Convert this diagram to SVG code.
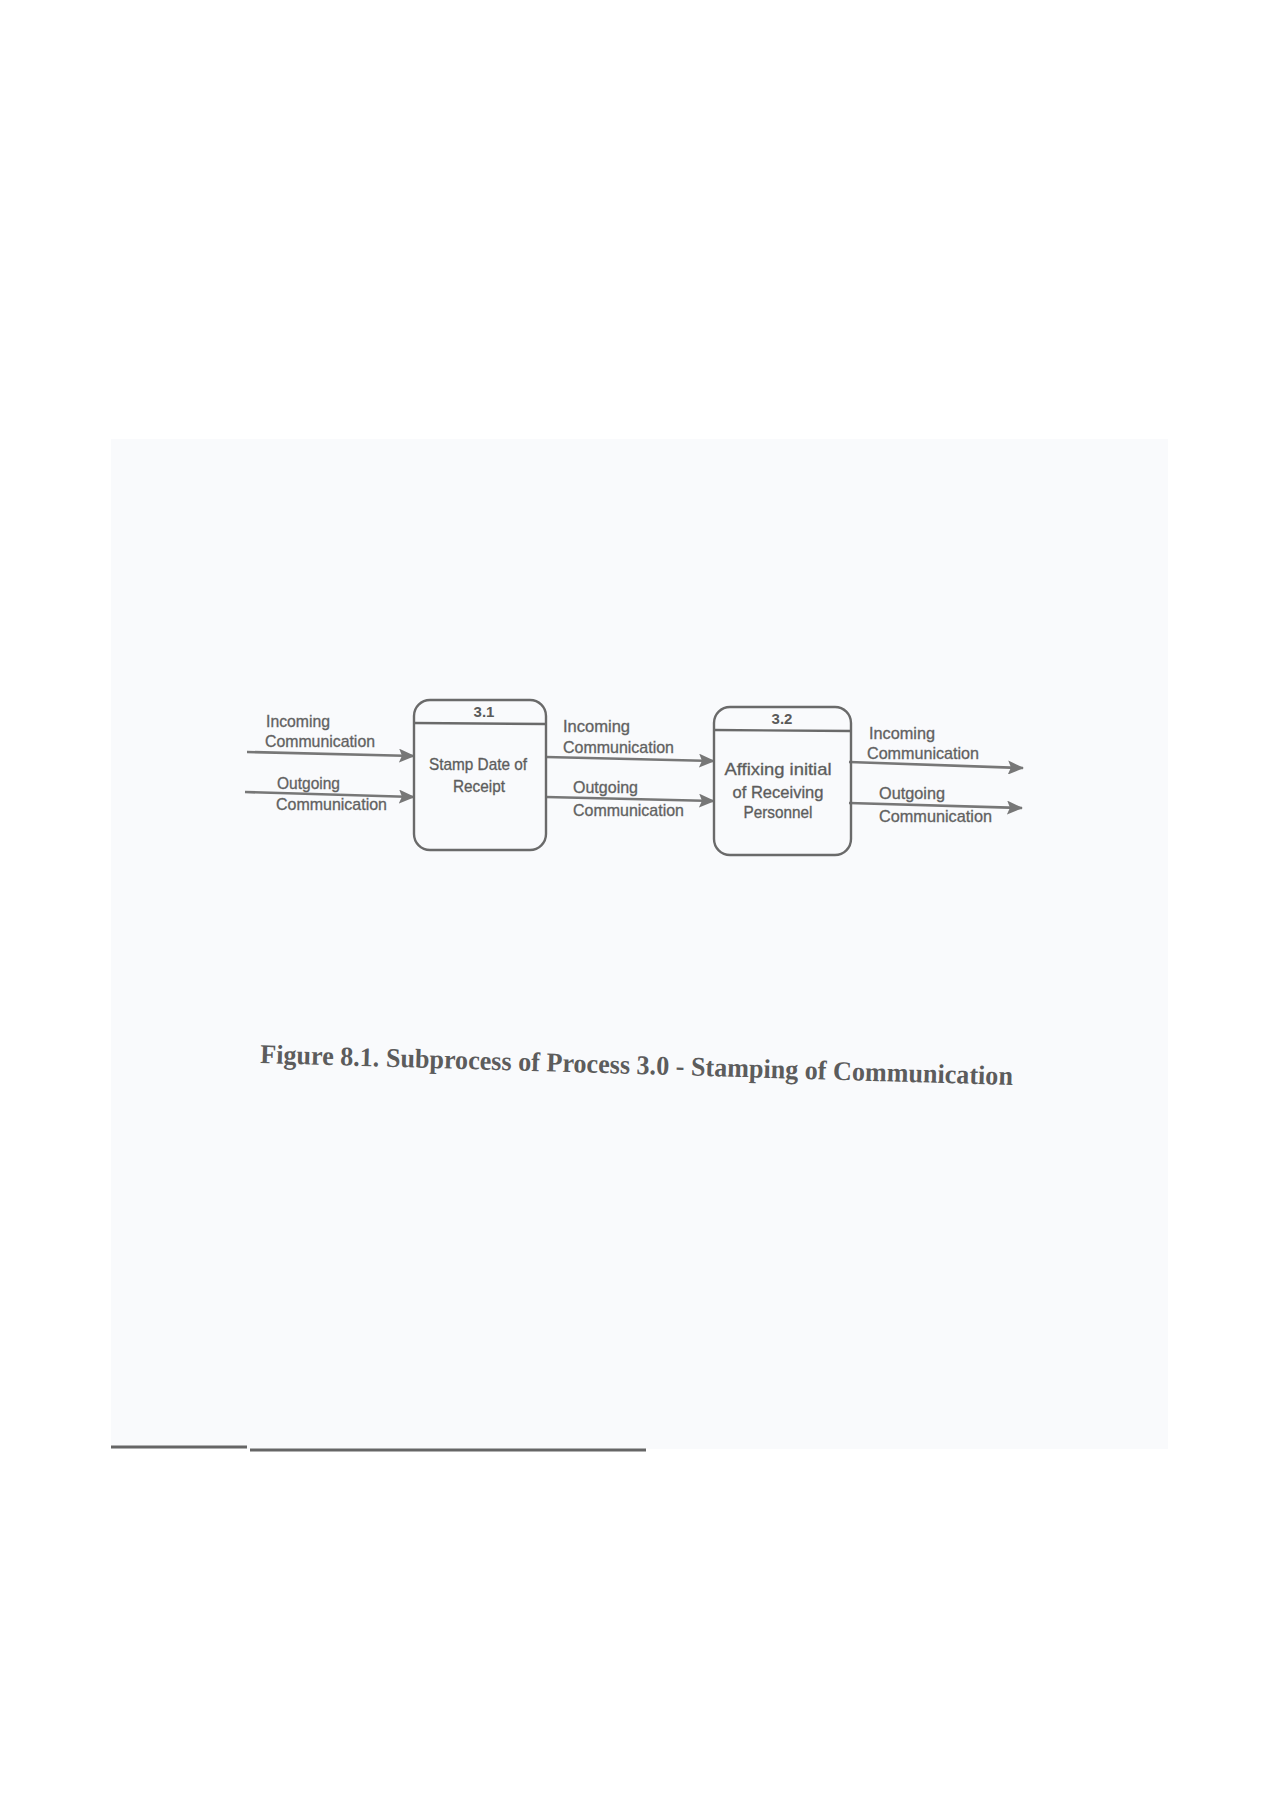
<svg xmlns="http://www.w3.org/2000/svg" width="1272" height="1800" viewBox="0 0 1272 1800">
<style>
  .lbl { font-family: "Liberation Sans", Arial, sans-serif; font-size: 17px; fill: #5e5e5e; stroke: #6a6a6a; stroke-width: 0.35; }
  .ptxt { font-family: "Liberation Sans", Arial, sans-serif; font-size: 17px; fill: #5a5a5a; stroke: #666666; stroke-width: 0.35; text-anchor: middle; }
  .pid { font-family: "Liberation Sans", Arial, sans-serif; font-size: 15px; font-weight: bold; fill: #5a5a5a; text-anchor: middle; }
  .box { fill: none; stroke: #6a6a6a; stroke-width: 2.4; }
  .div { stroke: #6a6a6a; stroke-width: 2.4; }
  .flow { fill: none; stroke: #777777; stroke-width: 2.6; marker-end: url(#arr); }
  .cap { font-family: "Liberation Serif", "Times New Roman", serif; font-size: 27px; font-weight: bold; fill: #5c5c5c; }
</style>
<defs>
  <marker id="arr" viewBox="0 0 16 14" refX="15" refY="7" markerWidth="16" markerHeight="14" markerUnits="userSpaceOnUse" orient="auto">
    <path d="M0,0 L16,7 L0,14 L3,7 Z" fill="#777777"/>
  </marker>
</defs>
<rect x="0" y="0" width="1272" height="1800" fill="#ffffff"/>
<rect x="111" y="439" width="1057" height="1010" fill="#f9fafc"/>
<path d="M111,1447 L247,1447 M250,1450 L646,1450" stroke="#666666" stroke-width="3" fill="none"/>

<g id="connectors">
  <path class="flow" d="M247,752 L414,756"/>
  <path class="flow" d="M245,792 L414,797"/>
  <path class="flow" d="M546,757 L714,761"/>
  <path class="flow" d="M546,797 L714,801"/>
  <path class="flow" d="M849,762 L1023,768"/>
  <path class="flow" d="M849,803 L1022,808"/>
</g>

<g id="labels">
  <text class="lbl" x="266" y="727" textLength="64" lengthAdjust="spacingAndGlyphs">Incoming</text>
  <text class="lbl" x="265" y="747" textLength="110" lengthAdjust="spacingAndGlyphs">Communication</text>
  <text class="lbl" x="277" y="789" textLength="63" lengthAdjust="spacingAndGlyphs">Outgoing</text>
  <text class="lbl" x="276" y="810" textLength="111" lengthAdjust="spacingAndGlyphs">Communication</text>
  <text class="lbl" x="563" y="732" textLength="67" lengthAdjust="spacingAndGlyphs">Incoming</text>
  <text class="lbl" x="563" y="753" textLength="111" lengthAdjust="spacingAndGlyphs">Communication</text>
  <text class="lbl" x="573" y="793" textLength="65" lengthAdjust="spacingAndGlyphs">Outgoing</text>
  <text class="lbl" x="573" y="816" textLength="111" lengthAdjust="spacingAndGlyphs">Communication</text>
  <text class="lbl" x="869" y="739" textLength="66" lengthAdjust="spacingAndGlyphs">Incoming</text>
  <text class="lbl" x="867" y="759" textLength="112" lengthAdjust="spacingAndGlyphs">Communication</text>
  <text class="lbl" x="879" y="799" textLength="66" lengthAdjust="spacingAndGlyphs">Outgoing</text>
  <text class="lbl" x="879" y="822" textLength="113" lengthAdjust="spacingAndGlyphs">Communication</text>
</g>

<g id="p3_1">
  <rect class="box" x="414" y="700" width="132" height="150" rx="16" ry="16"/>
  <line class="div" x1="414" y1="723" x2="546" y2="724"/>
  <text class="pid" x="484" y="717">3.1</text>
  <text class="ptxt" x="478" y="770" textLength="98" lengthAdjust="spacingAndGlyphs">Stamp Date of</text>
  <text class="ptxt" x="479" y="792" textLength="52" lengthAdjust="spacingAndGlyphs">Receipt</text>
</g>

<g id="p3_2">
  <rect class="box" x="714" y="707" width="137" height="148" rx="16" ry="16"/>
  <line class="div" x1="714" y1="730" x2="851" y2="731"/>
  <text class="pid" x="782" y="724">3.2</text>
  <text class="ptxt" x="778" y="775" textLength="107" lengthAdjust="spacingAndGlyphs">Affixing initial</text>
  <text class="ptxt" x="778" y="798" textLength="91" lengthAdjust="spacingAndGlyphs">of Receiving</text>
  <text class="ptxt" x="778" y="818" textLength="69" lengthAdjust="spacingAndGlyphs">Personnel</text>
</g>

<g id="caption">
  <text class="cap" x="260" y="1063" transform="rotate(1.67 260 1063)" textLength="753" lengthAdjust="spacingAndGlyphs">Figure 8.1. Subprocess of Process 3.0 - Stamping of Communication</text>
</g>
</svg>
